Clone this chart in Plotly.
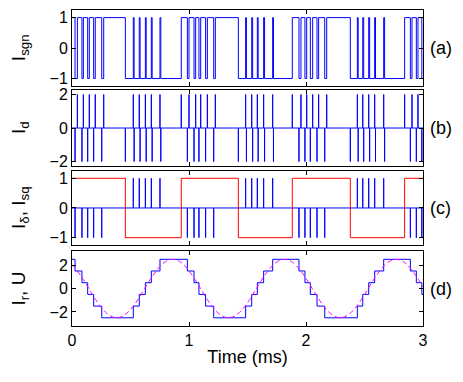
import plotly.graph_objects as go
from plotly.subplots import make_subplots

# ---- data (time in ms) ----
sgn_start = 1
sgn_edges = [0.026, 0.046, 0.085, 0.097, 0.134, 0.148, 0.185, 0.199, 0.254, 0.271,
             0.456, 0.524, 0.531, 0.575, 0.582, 0.627, 0.634, 0.678, 0.685, 0.752, 0.759,
             0.934, 0.986, 1.000, 1.043, 1.057, 1.085, 1.100, 1.142, 1.157, 1.211, 1.225,
             1.422, 1.484, 1.491, 1.536, 1.544, 1.584, 1.591, 1.638, 1.646, 1.715, 1.722,
             1.883, 1.940, 1.957, 1.991, 2.006, 2.037, 2.057, 2.094, 2.108, 2.160, 2.177,
             2.379, 2.439, 2.446, 2.485, 2.493, 2.536, 2.544, 2.587, 2.594, 2.664, 2.672,
             2.843, 2.892, 2.906, 2.943, 2.957, 2.990]
sgn_levels = [-1, 1, -1, 1, -1, 1, -1, 1, -1, 1,
              -1, 1, -1, 1, -1, 1, -1, 1, -1, 1, -1,
              1, -1, 1, -1, 1, -1, 1, -1, 1, -1, 1,
              -1, 1, -1, 1, -1, 1, -1, 1, -1, 1, -1,
              1, -1, 1, -1, 1, -1, 1, -1, 1, -1, 1,
              -1, 1, -1, 1, -1, 1, -1, 1, -1, 1, -1,
              1, -1, 1, -1, 1, -1]

delta_times = [0.026, 0.085, 0.134, 0.185, 0.254,
               0.524, 0.575, 0.627, 0.678, 0.752,
               0.986, 1.043, 1.085, 1.142, 1.211,
               1.484, 1.536, 1.584, 1.638, 1.715,
               1.940, 1.991, 2.037, 2.094, 2.160,
               2.439, 2.485, 2.536, 2.587, 2.664,
               2.892, 2.943, 2.990]
delta_signs = [-1, -1, -1, -1, -1,
               1, 1, 1, 1, 1,
               -1, -1, -1, -1, -1,
               1, 1, 1, 1, 1,
               -1, -1, -1, -1, -1,
               1, 1, 1, 1, 1,
               -1, -1, -1]

sq_start = 1
sq_edges = [0.456, 0.934, 1.422, 1.883, 2.379, 2.843]
sq_levels = [-1, 1, -1, 1, -1, 1]

ir_start = 2.5
ir_levels = [1.5, 0.5, -0.5, -1.5, -2.5,
             -1.5, -0.5, 0.5, 1.5, 2.5,
             1.5, 0.5, -0.5, -1.5, -2.5,
             -1.5, -0.5, 0.5, 1.5, 2.5,
             1.5, 0.5, -0.5, -1.5, -2.5,
             -1.5, -0.5, 0.5, 1.5, 2.5,
             1.5, 0.5, -0.5]

u_t = [0.000, 0.024, 0.084, 0.144, 0.203, 0.263, 0.323, 0.382, 0.442, 0.502,
       0.562, 0.621, 0.681, 0.741, 0.800, 0.860, 0.920, 0.979, 1.039, 1.099,
       1.158, 1.218, 1.278, 1.338, 1.397, 1.457, 1.517, 1.576, 1.636, 1.696,
       1.755, 1.815, 1.875, 1.934, 1.994, 2.054, 2.113, 2.173, 2.233, 2.293,
       2.352, 2.412, 2.472, 2.531, 2.591, 2.651, 2.710, 2.770, 2.830, 2.889,
       2.949, 3.000]
u_val = [2.03, 1.77, 0.96, 0, -0.96, -1.77, -2.31, -2.5, -2.31, -1.77,
         -0.96, 0, 0.96, 1.77, 2.31, 2.5, 2.31, 1.77, 0.96, 0,
         -0.96, -1.77, -2.31, -2.5, -2.31, -1.77, -0.96, 0, 0.96, 1.77,
         2.31, 2.5, 2.31, 1.77, 0.96, 0, -0.96, -1.77, -2.31, -2.5,
         -2.31, -1.77, -0.96, 0, 0.96, 1.77, 2.31, 2.5, 2.31, 1.77,
         0.96, 0.14]

T_END = 3.0
BLUE = "rgb(0,0,255)"
RED = "rgb(255,0,0)"
MAGENTA = "rgb(255,0,255)"


def stairs(start, edges, levels):
    return [0] + edges + [T_END], [start] + levels + [levels[-1]]


def pulses(times, heights):
    xs, ys = [0], [0]
    for t, h in zip(times, heights):
        xs += [t, t, t]
        ys += [0, h, 0]
    return xs + [T_END], ys + [0]


fig = make_subplots(rows=4, cols=1, shared_xaxes=True)

x, y = stairs(sgn_start, sgn_edges, sgn_levels)
fig.add_trace(go.Scatter(x=x, y=y, mode="lines", line=dict(color=BLUE, width=1, shape="hv")), row=1, col=1)

# I_d: a +-2 spike at each edge of I_sgn
x, y = pulses(sgn_edges, [2 * v for v in sgn_levels])
fig.add_trace(go.Scatter(x=x, y=y, mode="lines", line=dict(color=BLUE, width=1)), row=2, col=1)

x, y = pulses(delta_times, delta_signs)
fig.add_trace(go.Scatter(x=x, y=y, mode="lines", line=dict(color=BLUE, width=1)), row=3, col=1)
x, y = stairs(sq_start, sq_edges, sq_levels)
fig.add_trace(go.Scatter(x=x, y=y, mode="lines", line=dict(color=RED, width=1, shape="hv")), row=3, col=1)

x, y = stairs(ir_start, delta_times, ir_levels)
fig.add_trace(go.Scatter(x=x, y=y, mode="lines", line=dict(color=BLUE, width=1, shape="hv")), row=4, col=1)
fig.add_trace(go.Scatter(x=u_t, y=u_val, mode="lines",
                         line=dict(color=MAGENTA, width=1, dash="5px,3px", shape="spline")), row=4, col=1)

domains = [[0.759, 1.0], [0.506, 0.747], [0.256, 0.491], [0.0, 0.237]]
yranges = [[-1.25, 1.25], [-2.27, 2.27], [-1.25, 1.25], [-3.2, 3.2]]
yticks = [[-1, 0, 1], [-2, 0, 2], [-1, 0, 1], [-2, 0, 2]]
ylabels = ["I<sub>sgn</sub>", "I<sub>d</sub>", "I<sub>δ</sub>, I<sub>sq</sub>", "I<sub>r</sub>, U"]
tags = ["(a)", "(b)", "(c)", "(d)"]

axis_style = dict(showline=True, linecolor="black", linewidth=1, mirror="allticks",
                  ticks="inside", ticklen=4, tickcolor="black", showgrid=False, zeroline=False,
                  automargin=False, tickfont=dict(size=16, color="black"))

for i in range(4):
    fig.update_yaxes(row=i + 1, col=1, domain=domains[i], range=yranges[i],
                     tickvals=yticks[i], **axis_style)
    fig.update_xaxes(row=i + 1, col=1, range=[0, T_END], tickvals=[0, 1, 2, 3],
                     showticklabels=(i == 3), **axis_style)
    yc = sum(domains[i]) / 2
    fig.add_annotation(text=ylabels[i], xref="paper", yref="paper", x=-0.148, y=yc,
                       textangle=-90, showarrow=False, xanchor="center", yanchor="middle",
                       font=dict(size=19, color="black"))
    fig.add_annotation(text=tags[i], xref="paper", yref="paper", x=1.05, y=yc,
                       showarrow=False, xanchor="center", yanchor="middle",
                       font=dict(size=18, color="black"))

fig.update_xaxes(row=4, col=1, title=dict(text="Time (ms)", standoff=2, font=dict(size=18, color="black")))

# the page body adds an 8px offset, so the figure is 8px smaller than the window
fig.update_layout(
    width=455, height=374,
    margin=dict(l=64, r=40, t=2, b=56),
    showlegend=False,
    plot_bgcolor="white", paper_bgcolor="white",
    font=dict(family="Liberation Sans, Arial, sans-serif", size=16, color="black"),
)

fig.write_html("out.html")
